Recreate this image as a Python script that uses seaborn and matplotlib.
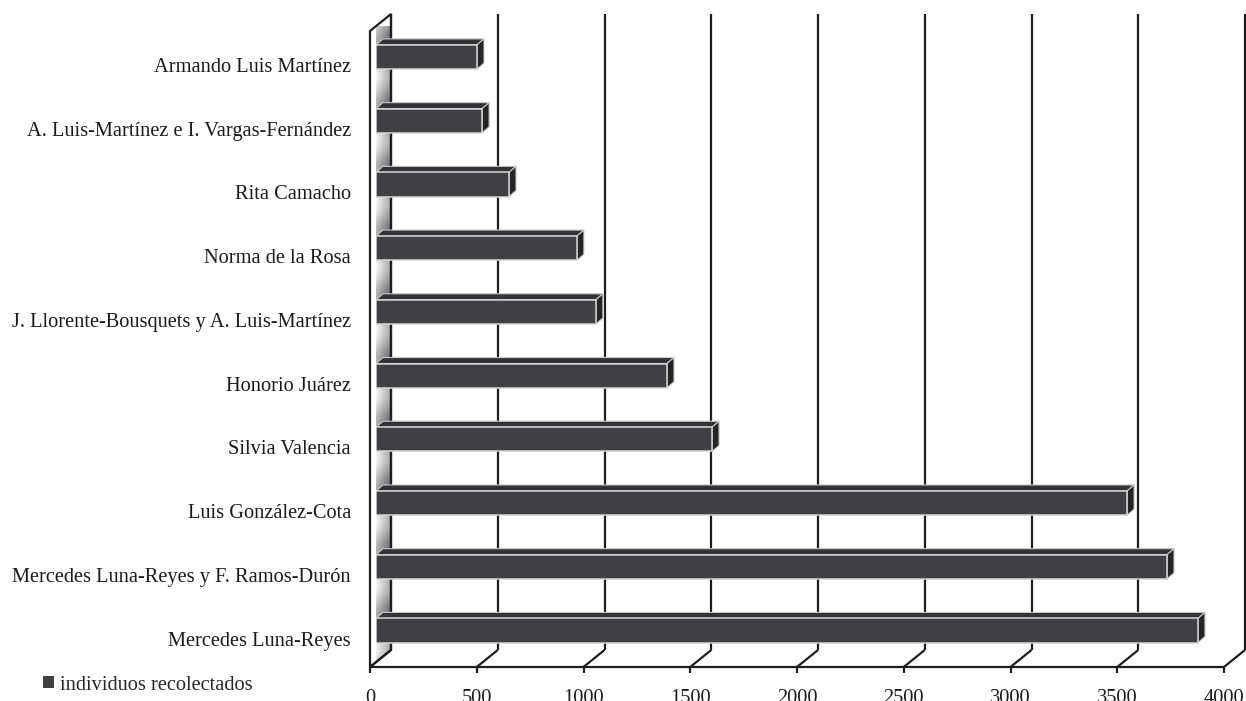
import numpy as np
import pandas as pd
import seaborn as sns
import matplotlib.pyplot as plt
import matplotlib.transforms as mtransforms
from matplotlib.patches import Polygon, Patch

# ---- data ----
collectors = [
    "Armando Luis Martínez",
    "A. Luis-Martínez e I. Vargas-Fernández",
    "Rita Camacho",
    "Norma de la Rosa",
    "J. Llorente-Bousquets y A. Luis-Martínez",
    "Honorio Juárez",
    "Silvia Valencia",
    "Luis González-Cota",
    "Mercedes Luna-Reyes y F. Ramos-Durón",
    "Mercedes Luna-Reyes",
]
individuals = [473, 497, 623, 941, 1030, 1363, 1574, 3518, 3705, 3850]
x_ticks = [0, 500, 1000, 1500, 2000, 2500, 3000, 3500, 4000]
series_label = "individuos recolectados"

# ---- style ----
sns.set_style("white")
plt.rcParams["font.family"] = ["Liberation Serif", "DejaVu Serif"]
FS = 14.7

W, H = 1246, 701
fig = plt.figure(figsize=(W / 100, H / 100), dpi=100)
ax = fig.add_axes([376 / W, (H - 662) / H, 854 / W, 636 / H])

df = pd.DataFrame({"colector": collectors, "individuos": individuals})
sns.barplot(data=df, x="individuos", y="colector", orient="h", color="#404042",
            saturation=1, width=0.38, edgecolor="#d5d5d5", linewidth=1.1,
            ax=ax, zorder=5)

yb, yt = 9.494, -0.4865
ax.set_xlim(0, 4000)
ax.set_ylim(yb, yt)
for s in ax.spines.values():
    s.set_visible(False)
ax.set_xlabel("")
ax.set_ylabel("")
ax.set_xticks([])
ax.tick_params(axis="y", length=0, pad=18, labelsize=FS, labelcolor="#1a1a1a")
ax.grid(False)
shift = mtransforms.ScaledTranslation(0, -8 / 100, fig.dpi_scale_trans)
for lab in ax.get_yticklabels():
    lab.set_transform(lab.get_transform() + shift)

xpx = 854 / 4000.0
ypx = 636 / (yb - yt)


def D(dxp, dyp):
    return dxp / xpx, dyp / ypx


back = D(15, -12)
front = D(-6, 5)
bd = D(7, -6)

# ---- 3D faces of bars ----
bars = list(ax.patches)
for p in bars:
    x0, w = p.get_x(), p.get_width()
    ya, yb_ = p.get_y(), p.get_y() + p.get_height()
    ytop, ybot = min(ya, yb_), max(ya, yb_)
    top = Polygon([(x0, ytop), (x0 + w, ytop), (x0 + w + bd[0], ytop + bd[1]),
                   (x0 + bd[0], ytop + bd[1])], closed=True, facecolor="#333335",
                  edgecolor="#c8c8c8", linewidth=0.8, zorder=4.9)
    side = Polygon([(x0 + w, ytop), (x0 + w, ybot), (x0 + w + bd[0], ybot + bd[1]),
                    (x0 + w + bd[0], ytop + bd[1])], closed=True, facecolor="#252526",
                   edgecolor="#c8c8c8", linewidth=0.8, zorder=4.9)
    ax.add_patch(top)
    ax.add_patch(side)

# ---- left wall with metallic gradient ----
fx, bx = front[0], back[0]
wall_pts = [(fx, yb + front[1]), (fx, yt + front[1]), (bx, yt + back[1]), (bx, yb + back[1])]
wall = Polygon(wall_pts, closed=True, facecolor="none", edgecolor="#1e1e1e",
               linewidth=1.6, zorder=1.2, clip_on=False)
ax.add_patch(wall)
rows, cols = 700, 40
yy = np.linspace(14, 667, rows)[:, None]
xx = np.linspace(0, 1, cols)[None, :]
base = 0.95 - 0.42 * xx
mod = 0.13 * np.cos(2 * np.pi * (yy - 75) / 63.72)
img = np.clip(base + mod, 0, 1)
im = ax.imshow(img, cmap="gray", vmin=0, vmax=1, aspect="auto",
               extent=(fx, bx, yb + front[1], yt + back[1]), zorder=1.0,
               interpolation="bilinear")
im.set_clip_path(wall)
im.set_clip_box(None)
ax.set_xlim(0, 4000)
ax.set_ylim(yb, yt)

# ---- back grid lines, floor, ticks ----
gl = dict(color="#1e1e1e", linewidth=1.6, zorder=1.5, clip_on=False,
          solid_capstyle="butt")
for t in x_ticks:
    ax.plot([t + bx, t + bx], [yb + back[1], yt + back[1]], **gl)
    ax.plot([t + bx, t + fx], [yb + back[1], yb + front[1]], **gl)
    ax.plot([t + fx, t + fx], [yb + front[1], yb + front[1] + 6 / ypx], **gl)
    ax.text(t + fx, yb + front[1] + 22 / ypx, f"{t}", ha="center", va="top",
            fontsize=FS, color="#1a1a1a", clip_on=False)
ax.plot([x_ticks[0] + fx, x_ticks[-1] + fx], [yb + front[1], yb + front[1]], **gl)

# ---- legend ----
fig.legend(handles=[Patch(facecolor="#404042", edgecolor="none", label=series_label)],
           loc="center left", bbox_to_anchor=(43 / W, 1 - 685 / H), frameon=False,
           handlelength=0.55, handleheight=0.55, handletextpad=0.3,
           borderpad=0, borderaxespad=0, fontsize=FS)

fig.savefig("out.png", dpi=100, facecolor="white")
